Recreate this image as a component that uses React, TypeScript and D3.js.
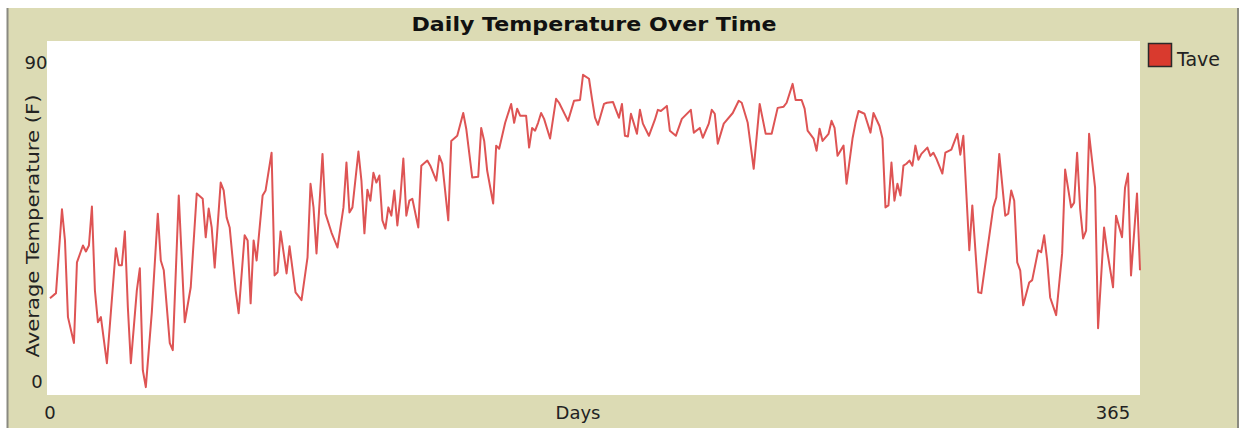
import React, { useEffect, useRef } from "react";
import * as d3 from "d3";

// days where the plotted line turns
const days = [
  1, 3, 5, 6, 7, 9, 10, 12, 13, 14, 15, 16, 17, 18, 20, 23, 24, 25, 26, 27,
  28, 30, 31, 32, 33, 35, 37, 38, 39, 41, 42, 44, 46, 48, 50, 52, 53, 54, 55, 56,
  58, 59, 60, 61, 63, 64, 66, 67, 68, 69, 70, 72, 73, 75, 76, 77, 78, 80, 81, 83,
  85, 87, 88, 89, 90, 92, 93, 95, 97, 99, 100, 101, 102, 104, 105, 106, 107, 108, 109, 110,
  111, 112, 113, 114, 115, 116, 117, 118, 119, 120, 121, 122, 124, 125, 127, 128, 130, 131, 132, 134,
  135, 137, 139, 140, 142, 144, 145, 146, 147, 149, 150, 151, 153, 155, 156, 157, 158, 160, 161, 162,
  163, 164, 165, 166, 168, 170, 171, 174, 176, 178, 179, 181, 182, 183, 184, 186, 187, 189, 190, 191,
  192, 193, 194, 195, 196, 197, 198, 199, 201, 203, 204, 205, 207, 208, 210, 212, 215, 216, 218, 219,
  221, 222, 223, 224, 226, 229, 231, 232, 234, 236, 238, 239, 240, 242, 244, 246, 247, 249, 250, 252,
  253, 254, 256, 257, 258, 259, 261, 262, 263, 264, 266, 267, 269, 270, 271, 273, 275, 276, 278, 279,
  280, 281, 282, 283, 284, 285, 286, 287, 288, 289, 290, 291, 292, 294, 295, 296, 297, 299, 300, 302,
  304, 305, 306, 308, 309, 311, 312, 314, 316, 317, 318, 320, 321, 322, 323, 324, 325, 326, 328, 329,
  331, 332, 333, 334, 335, 337, 339, 340, 342, 343, 344, 345, 346, 347, 348, 350, 351, 353, 354, 356,
  357, 359, 360, 361, 362, 364, 365,
];

const tave = [
  24.6, 25.9, 47.2, 39.3, 19.8, 13.2, 33.7, 38.0, 36.5, 38.0, 47.9, 26.6, 18.5, 19.8, 8.1, 37.3, 33.0, 33.0, 41.6, 22.3,
  8.1, 26.6, 32.2, 6.3, 2.0, 21.0, 46.1, 34.2, 31.7, 13.2, 11.4, 50.7, 18.5, 27.4, 51.2, 49.9, 40.1, 47.4, 42.6, 32.4,
  54.0, 52.0, 45.1, 42.6, 26.6, 20.8, 40.6, 39.3, 23.3, 39.3, 34.2, 50.7, 52.0, 61.6, 30.4, 31.2, 41.6, 30.9, 37.8, 26.1,
  24.1, 35.0, 53.7, 47.7, 36.0, 61.3, 46.1, 41.3, 37.5, 47.7, 59.1, 46.4, 47.7, 61.9, 54.5, 41.1, 52.2, 49.4, 56.5, 54.0,
  55.8, 44.4, 42.3, 47.7, 45.6, 52.0, 43.1, 50.2, 60.1, 45.6, 49.4, 49.9, 42.6, 58.3, 59.6, 58.3, 54.5, 60.8, 58.8, 44.4,
  64.6, 65.9, 71.7, 67.7, 55.3, 55.5, 67.9, 64.6, 57.0, 48.7, 63.4, 62.6, 69.2, 74.0, 69.2, 72.8, 71.0, 71.0, 62.9, 67.9,
  67.2, 69.2, 71.7, 70.2, 65.2, 75.3, 74.3, 69.7, 74.8, 75.0, 81.4, 80.4, 75.3, 70.5, 68.7, 74.0, 74.3, 74.5, 72.5, 70.5,
  74.0, 65.9, 65.7, 71.5, 69.0, 66.4, 72.5, 69.0, 65.9, 70.0, 72.5, 72.2, 73.5, 67.2, 65.9, 70.2, 72.5, 66.7, 67.9, 65.4,
  69.0, 72.5, 71.5, 63.9, 69.0, 71.7, 74.8, 74.3, 69.2, 57.5, 74.0, 70.2, 66.4, 66.4, 73.0, 73.3, 74.3, 79.1, 75.0, 75.0,
  72.8, 67.2, 65.2, 62.1, 67.7, 64.6, 66.4, 69.7, 67.9, 60.8, 63.4, 53.7, 65.2, 69.2, 72.2, 71.5, 66.7, 71.7, 68.4, 65.2,
  47.7, 48.2, 59.1, 49.4, 53.7, 50.7, 58.3, 58.8, 59.6, 58.3, 63.4, 59.8, 61.3, 62.9, 60.8, 61.6, 60.1, 56.3, 61.6, 62.4,
  66.4, 61.1, 65.9, 36.8, 48.2, 26.1, 25.9, 36.8, 47.7, 50.2, 61.3, 45.6, 46.1, 52.0, 49.4, 33.7, 31.7, 22.8, 28.6, 29.2,
  36.8, 36.3, 40.6, 34.2, 24.8, 20.3, 36.0, 57.3, 47.7, 48.9, 61.6, 47.4, 39.8, 41.8, 66.4, 52.7, 17.0, 42.6, 36.8, 27.4,
  45.6, 40.1, 52.7, 56.3, 30.4, 51.2, 31.7,
];

const xRange = [0, 365];
const yRange = [0, 90];
const seriesName = "Tave";

const W = 1243;
const H = 428;

function App() {
  const ref = useRef<SVGSVGElement>(null);

  useEffect(() => {
    const svg = d3.select(ref.current);
    svg.selectAll("*").remove();

    const font = "'DejaVu Sans', Verdana, sans-serif";
    const plot = { left: 47, top: 41, right: 1140, bottom: 395 };

    var x = d3.scaleLinear().domain(xRange).range([plot.left, plot.right]);
    var y = d3.scaleLinear().domain(yRange).range([plot.bottom, plot.top]);

    // widget background + side borders
    svg.append("rect").attr("width", W).attr("height", H).attr("fill", "#fff");
    svg.append("rect")
      .attr("x", 7).attr("y", 8)
      .attr("width", 1231).attr("height", H)
      .attr("fill", "#dcdbb4");
    svg.append("line").attr("x1", 7.5).attr("x2", 7.5).attr("y1", 8).attr("y2", H)
      .attr("stroke", "#8a8a80").attr("stroke-width", 2);
    svg.append("line").attr("x1", 1238).attr("x2", 1238).attr("y1", 8).attr("y2", H)
      .attr("stroke", "#8a8a80").attr("stroke-width", 2);

    // plot area
    svg.append("rect")
      .attr("x", plot.left).attr("y", plot.top)
      .attr("width", plot.right - plot.left).attr("height", plot.bottom - plot.top)
      .attr("fill", "#fff");

    svg.append("text")
      .attr("x", 594).attr("y", 31)
      .attr("text-anchor", "middle")
      .attr("font-family", font).attr("font-weight", "bold").attr("font-size", 20)
      .attr("textLength", 365).attr("lengthAdjust", "spacingAndGlyphs")
      .attr("fill", "#111")
      .text("Daily Temperature Over Time");

    // axis labels (NetLogo style: just min / max)
    const lbl = (t: string, px: number, py: number, anchor = "middle") =>
      svg.append("text")
        .attr("x", px).attr("y", py)
        .attr("text-anchor", anchor)
        .attr("font-family", font).attr("font-size", 18)
        .attr("fill", "#222")
        .text(t);

    lbl(String(yRange[1]), 36, 69);
    lbl(String(yRange[0]), 37, 388);
    lbl(String(xRange[0]), 50, 419);
    lbl(String(xRange[1]), 1113, 419);
    lbl("Days", 578, 419);

    svg.append("text")
      .attr("transform", "translate(39,226) rotate(-90)")
      .attr("text-anchor", "middle")
      .attr("font-family", font).attr("font-size", 18)
      .attr("textLength", 263).attr("lengthAdjust", "spacingAndGlyphs")
      .attr("fill", "#222")
      .text("Average Temperature (F)");

    // the series
    const pts = days.map((d, i) => [d, tave[i]] as [number, number]);
    const line = d3.line<[number, number]>()
      .x((d) => x(d[0]))
      .y((d) => y(d[1]));

    svg.append("path")
      .datum(pts)
      .attr("d", line)
      .attr("fill", "none")
      .attr("stroke", "#de5454")
      .attr("stroke-width", 2)
      .attr("stroke-linejoin", "round");

    // legend
    svg.append("rect")
      .attr("x", 1148.5).attr("y", 43.5)
      .attr("width", 23).attr("height", 23)
      .attr("fill", "#d93a2e").attr("stroke", "#2a2a2a").attr("stroke-width", 1.5);
    lbl(seriesName, 1177, 66, "start").attr("font-size", 19);
  }, []);

  return (
    <svg
      ref={ref}
      width={W}
      height={H}
      style={{ position: "absolute", left: 0, top: 0 }}
    />
  );
}

export default App;
